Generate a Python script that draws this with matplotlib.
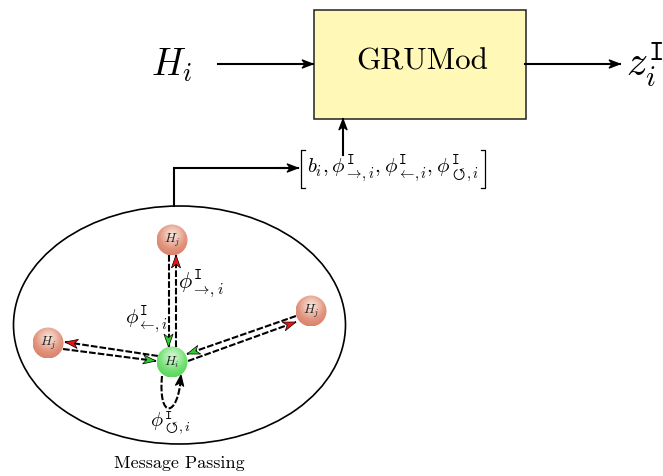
import numpy as np
import matplotlib
matplotlib.use('Agg')
import matplotlib.pyplot as plt
from matplotlib.patches import Ellipse, Rectangle, Circle, PathPatch, Polygon
from matplotlib.path import Path
from matplotlib.colors import LinearSegmentedColormap

plt.rcParams['mathtext.fontset'] = 'cm'
plt.rcParams['font.family'] = ['cmr10', 'DejaVu Serif']
plt.rcParams['axes.formatter.use_mathtext'] = True

# node centres in picture pixels
node_names = ['top', 'left', 'right', 'center']
node_x = [172, 48, 311, 172]
node_y = [240, 343, 311, 362]
node_labels = ['$H_j$', '$H_j$', '$H_j$', '$H_i$']

# dashed message arrows: start x, start y, end x, end y, head colour
msg_x0 = [168.5, 176, 63, 158, 296, 188]
msg_y0 = [255, 347, 349, 356, 316, 361]
msg_x1 = [168.5, 176, 156, 65, 187, 296]
msg_y1 = [347, 255, 361, 342, 354, 322]
msg_heads = ['#2ecc2e', '#f01010', '#2ecc2e', '#f01010', '#2ecc2e', '#f01010']

W, H = 663, 476
fig = plt.figure(figsize=(W / 100, H / 100), dpi=100)
ax = fig.add_axes([0, 0, 1, 1])
ax.set_xlim(0, W)
ax.set_ylim(H, 0)
ax.axis('off')

red_map = LinearSegmentedColormap.from_list('r', ['#f8e8e2', '#efc2b2', '#e2957f', '#da826c'])
green_map = LinearSegmentedColormap.from_list('g', ['#dcf8dc', '#aaeeaa', '#74e074', '#5cd65c'])


def sphere(x, y, r, cmap):
    n = 80
    yy, xx = np.mgrid[-1:1:n * 1j, -1:1:n * 1j]
    d = np.sqrt(xx ** 2 + (yy + 0.3) ** 2) / 1.3
    im = ax.imshow(d, cmap=cmap, vmin=0, vmax=1, extent=[x - r, x + r, y + r, y - r],
                   interpolation='bilinear', zorder=4)
    im.set_clip_path(Circle((x, y), r, transform=ax.transData))


def head(x0, y0, x1, y1, col='black', length=11, half=4.2, lw=0.8):
    # concave latex style arrow head, tip at x1, y1
    d = np.hypot(x1 - x0, y1 - y0)
    ux, uy = (x1 - x0) / d, (y1 - y0) / d
    px, py = -uy, ux
    pts = [(x1, y1),
           (x1 - ux * length + px * half, y1 - uy * length + py * half),
           (x1 - ux * length * 0.72, y1 - uy * length * 0.72),
           (x1 - ux * length - px * half, y1 - uy * length - py * half)]
    ax.add_patch(Polygon(pts, closed=True, fc=col, ec='black', lw=lw, zorder=3))


def arrow(x0, y0, x1, y1, lw=1.5):
    ax.plot([x0, x1], [y0, y1], color='black', lw=lw, zorder=2)
    head(x0, y0, x1, y1)


ax.add_patch(Rectangle((313.5, 9.5), 212, 109, fc='#fff8b6', ec='#222222', lw=1.1, zorder=2))
ax.add_patch(Ellipse((179.5, 325), 332, 238, fc='none', ec='black', lw=1.2))

arrow(218, 64, 313, 64)
arrow(525, 64, 620, 64)
arrow(343, 155, 343, 119)
ax.plot([173.5, 173.5, 285], [206, 168, 168], color='black', lw=1.5, solid_joinstyle='miter')
arrow(280, 168, 298, 168)

# brackets round the vector
ax.plot([305, 301, 301, 305], [149.5, 149.5, 188, 188], color='black', lw=0.9)
ax.plot([481, 485, 485, 481], [149.5, 149.5, 188, 188], color='black', lw=0.9)

for x0, y0, x1, y1, c in zip(msg_x0, msg_y0, msg_x1, msg_y1, msg_heads):
    ax.plot([x0, x1], [y0, y1], color='black', lw=1.5, ls=(0, (3.2, 1.0)), zorder=2)
    head(x0, y0, x1, y1, c, length=13, half=4.6, lw=0.5)

loop = Path([(162, 376), (158, 420), (178, 418), (181, 377)], [Path.MOVETO, Path.CURVE4, Path.CURVE4, Path.CURVE4])
ax.add_patch(PathPatch(loop, fc='none', ec='black', lw=1.5, ls=(0, (3.2, 1.0)), zorder=2))
head(179, 390, 181, 375)

for x, y, lab, name in zip(node_x, node_y, node_labels, node_names):
    sphere(x, y, 15.5, green_map if name == 'center' else red_map)
    ax.text(x, y, lab, fontsize=9.5, ha='center', va='center', color='#222222', zorder=5)

ax.text(422, 62, 'GRUMod', fontsize=22.4, ha='center', va='center', zorder=5)
ax.text(171, 65, '$H_i$', fontsize=27, ha='center', va='center')
ax.text(645, 65, r'$z_i^{\mathtt{I}}$', fontsize=30, ha='center', va='center')
ax.text(393, 169, r'$b_i,\phi^{\mathtt{I}}_{\rightarrow\!,i},\phi^{\mathtt{I}}_{\leftarrow\!,i},\phi^{\mathtt{I}}_{\circlearrowleft\!,i}$',
        fontsize=15, ha='center', va='center')
ax.text(201, 284, r'$\phi^{\mathtt{I}}_{\rightarrow\!,i}$', fontsize=16, ha='center', va='center')
ax.text(146.5, 320, r'$\phi^{\mathtt{I}}_{\leftarrow\!,i}$', fontsize=15, ha='center', va='center')
ax.text(171, 423, r'$\phi^{\mathtt{I}}_{\circlearrowleft\!,i}$', fontsize=14.5, ha='center', va='center')
ax.text(179.5, 463, 'Message Passing', fontsize=13, ha='center', va='center')

fig.savefig('out.png', dpi=100)
